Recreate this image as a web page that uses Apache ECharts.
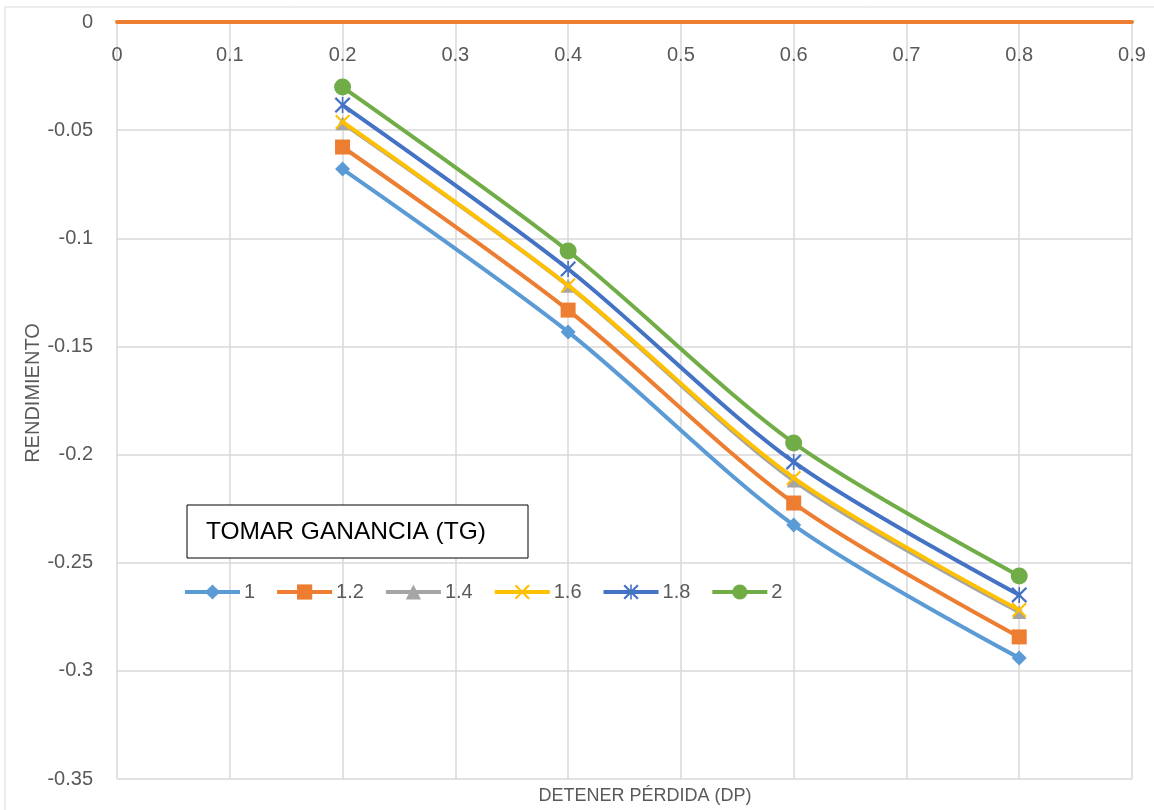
<!DOCTYPE html>
<html>
<head>
<meta charset="utf-8">
<script src="https://cdn.jsdelivr.net/npm/echarts@6/dist/echarts.min.js"></script>
<style>
html,body{margin:0;padding:0;background:#fff;}
#chart{width:1154px;height:810px;}
</style>
</head>
<body>
<div id="chart"></div>
<script>
const xValues = [0.2, 0.4, 0.6, 0.8];
const seriesNames = ['1', '1.2', '1.4', '1.6', '1.8', '2'];
const s1 = [-0.068, -0.1433, -0.2326, -0.294];
const s12 = [-0.0578, -0.1332, -0.2224, -0.2843];
const s14 = [-0.0468, -0.1220, -0.2120, -0.2728];
const s16 = [-0.0462, -0.1218, -0.2108, -0.2719];
const s18 = [-0.0384, -0.1142, -0.2034, -0.2649];
const s2 = [-0.0301, -0.1059, -0.1946, -0.2561];
const yTicks = [0, -0.05, -0.1, -0.15, -0.2, -0.25, -0.3, -0.35];
const xTicks = [0, 0.1, 0.2, 0.3, 0.4, 0.5, 0.6, 0.7, 0.8, 0.9];

const allSeries = [s1, s12, s14, s16, s18, s2];
const colors = ['#5B9BD5', '#ED7D31', '#A5A5A5', '#FFC000', '#4472C4', '#70AD47'];
const xPath = 'path://M2,0 L10,8 L18,0 L20,2 L12,10 L20,18 L18,20 L10,12 L2,20 L0,18 L8,10 L0,2 Z';
const starPath = 'path://M2,0 L10,8 L18,0 L20,2 L12,10 L20,18 L18,20 L10,12 L2,20 L0,18 L8,10 L0,2 Z M9,0 L11,0 L11,20 L9,20 Z';
const symbols = ['diamond', 'rect', 'triangle', xPath, starPath, 'circle'];
const sizes = [15, 15, 14, 15, 16, 17];
const font = 'Liberation Sans';

const chart = echarts.init(document.getElementById('chart'));
chart.setOption({
  animation: false,
  backgroundColor: '#fff',
  grid: {left: 117, right: 22, top: 22, bottom: 31},
  xAxis: {
    type: 'value', position: 'top', min: 0, max: 0.9, interval: 0.1,
    axisLine: {show: true, onZero: false, lineStyle: {color: '#ED7D31', width: 4}},
    axisTick: {show: false},
    axisLabel: {inside: true, margin: 23, color: '#595959', fontSize: 20, fontFamily: font,
      formatter: v => { const t = xTicks.find(x => Math.abs(x - v) < 1e-9); return t === undefined ? '' : String(t); }},
    splitLine: {show: true, lineStyle: {color: '#d9d9d9', width: 1.5}}
  },
  yAxis: {
    type: 'value', min: -0.35, max: 0, interval: 0.05,
    axisLine: {show: false}, axisTick: {show: false},
    axisLabel: {margin: 24, color: '#595959', fontSize: 20, fontFamily: font,
      formatter: v => { const t = yTicks.find(x => Math.abs(x - v) < 1e-9); return t === undefined ? '' : String(t); }},
    splitLine: {show: true, lineStyle: {color: '#d9d9d9', width: 1.5}}
  },
  title: {
    text: 'DETENER PÉRDIDA (DP)', left: 640, top: 782, textAlign: 'center',
    textStyle: {color: '#595959', fontSize: 18, fontWeight: 'normal', fontFamily: font}
  },
  legend: {
    left: 183, top: 582, padding: 0, itemWidth: 55, itemHeight: 19, itemGap: 20,
    lineStyle: {width: 4},
    textStyle: {color: '#595959', fontSize: 20, fontFamily: font, padding: [0, 0, 0, -1]},
    data: seriesNames
  },
  graphic: [
    {type: 'rect', shape: {x: 5, y: 7, width: 1160, height: 820}, style: {fill: 'none', stroke: '#d9d9d9', lineWidth: 1}, silent: true, z: -10},
    {type: 'text', x: 33, y: 393, rotation: Math.PI / 2,
      style: {text: 'RENDIMIENTO', fill: '#595959', font: '20px "Liberation Sans"', textAlign: 'center', textVerticalAlign: 'middle'}},
    {type: 'rect', shape: {x: 187, y: 505, width: 341, height: 53}, style: {fill: '#fff', stroke: '#000', lineWidth: 1}, z: 10},
    {type: 'text', x: 206, y: 532, style: {text: 'TOMAR GANANCIA (TG)', fill: '#000', font: '24.5px "Liberation Sans"', textVerticalAlign: 'middle'}, z: 11}
  ],
  series: allSeries.map((d, i) => ({
    name: seriesNames[i], type: 'line', smooth: 0.3,
    data: d.map((v, j) => [xValues[j], v]),
    symbol: symbols[i], symbolSize: sizes[i],
    lineStyle: {color: colors[i], width: 4},
    itemStyle: {color: colors[i], borderWidth: 0},
    z: 2 + i
  }))
});
</script>
</body>
</html>
